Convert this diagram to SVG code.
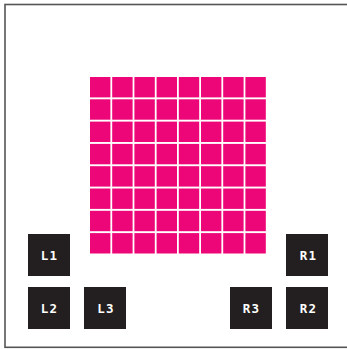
<svg xmlns="http://www.w3.org/2000/svg" width="347" height="349" viewBox="0 0 347 349">
<style>
.cell{fill:#ed0677}
.box{fill:#231f20}
.lbl{fill:#fff;font-family:"DejaVu Sans Mono","Liberation Mono",monospace;font-size:12.5px;font-weight:bold;letter-spacing:1.2px;text-anchor:middle}
</style>
<defs>
<g id="row">
<rect class="cell" x="0" y="0" width="20.4" height="20.4"/>
<rect class="cell" x="22.2" y="0" width="20.4" height="20.4"/>
<rect class="cell" x="44.4" y="0" width="20.4" height="20.4"/>
<rect class="cell" x="66.6" y="0" width="20.4" height="20.4"/>
<rect class="cell" x="88.8" y="0" width="20.4" height="20.4"/>
<rect class="cell" x="111" y="0" width="20.4" height="20.4"/>
<rect class="cell" x="133.2" y="0" width="20.4" height="20.4"/>
<rect class="cell" x="155.4" y="0" width="20.4" height="20.4"/>
</g>
</defs>
<rect x="0" y="0" width="347" height="349" fill="#fff"/>
<rect x="5" y="4.5" width="346" height="342.8" fill="none" stroke="#555" stroke-width="1.6"/>
<g id="grid">
<use href="#row" x="90" y="77"/>
<use href="#row" x="90" y="99.3"/>
<use href="#row" x="90" y="121.6"/>
<use href="#row" x="90" y="143.9"/>
<use href="#row" x="90" y="166.2"/>
<use href="#row" x="90" y="188.5"/>
<use href="#row" x="90" y="210.8"/>
<use href="#row" x="90" y="233.1"/>
</g>
<g id="L1"><rect class="box" x="28" y="234" width="42" height="42"/><text class="lbl" x="49.5" y="259.5">L1</text></g>
<g id="L2"><rect class="box" x="28" y="287" width="42" height="42"/><text class="lbl" x="49.5" y="312.5">L2</text></g>
<g id="L3"><rect class="box" x="84" y="287" width="42" height="42"/><text class="lbl" x="106" y="312.5">L3</text></g>
<g id="R3"><rect class="box" x="230" y="287" width="42" height="42"/><text class="lbl" x="251.5" y="312.5">R3</text></g>
<g id="R1"><rect class="box" x="286" y="234" width="42" height="42"/><text class="lbl" x="308.5" y="259.5">R1</text></g>
<g id="R2"><rect class="box" x="286" y="287" width="42" height="42"/><text class="lbl" x="308.5" y="312.5">R2</text></g>
<g id="connectors"></g>
</svg>
